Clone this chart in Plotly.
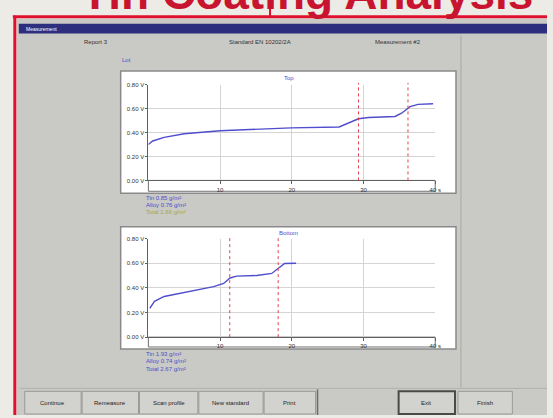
import plotly.graph_objects as go

# ---------------- data ----------------
top_x = [0, 0.6, 2.2, 5, 10, 15.1, 19.9, 26.6, 28, 29.3, 30.7, 34.4, 35.3, 36.5, 37.6, 39.7]
top_y = [0.30, 0.33, 0.36, 0.39, 0.415, 0.43, 0.44, 0.447, 0.48, 0.516, 0.527, 0.535, 0.562, 0.617, 0.636, 0.642]
bot_x = [0.2, 0.85, 2.2, 4.5, 6.8, 9.1, 10.5, 11.4, 12.3, 15.1, 17.2, 18.1, 19.0, 20.6]
bot_y = [0.234, 0.29, 0.33, 0.355, 0.38, 0.41, 0.436, 0.48, 0.495, 0.50, 0.517, 0.557, 0.598, 0.60]
top_markers = [29.3, 36.2]
bot_markers = [11.35, 18.1]
y_ticks = [0.0, 0.2, 0.4, 0.6, 0.8]
y_labels = ["0.00 V", "0.20 V", "0.40 V", "0.60 V", "0.80 V"]
x_ticks = [10, 20, 30, 40]
x_labels = ["10", "20", "30", "40 s"]
top_results = ["Tin 0.85 g/m²", "Alloy 0.76 g/m²", "Total 1.66 g/m²"]
bot_results = ["Tin 1.93 g/m²", "Alloy 0.74 g/m²", "Total 2.67 g/m²"]
buttons = ["Continue", "Remeasure", "Scan profile", "New standard", "Print"]
buttons_right = ["Exit", "Finish"]

W, H = 553, 418
def X(p): return p / W
def Y(p): return 1 - p / H

FONT = "Liberation Sans"
BLUE = "#4f4dcc"
fig = go.Figure()
fig.add_trace(go.Scatter(x=top_x, y=top_y, mode="lines", line=dict(color=BLUE, width=1.4),
                         xaxis="x", yaxis="y", showlegend=False, hoverinfo="skip"))
fig.add_trace(go.Scatter(x=bot_x, y=bot_y, mode="lines", line=dict(color=BLUE, width=1.4),
                         xaxis="x2", yaxis="y2", showlegend=False, hoverinfo="skip"))

shapes = []
def rect(x0, y0, x1, y1, fill, line="rgba(0,0,0,0)", lw=0, layer="below"):
    shapes.append(dict(type="rect", xref="paper", yref="paper", x0=X(x0), x1=X(x1), y0=Y(y1), y1=Y(y0),
                       fillcolor=fill, line=dict(color=line, width=lw), layer=layer))
def line(x0, y0, x1, y1, color, w, layer="below", dash="solid"):
    shapes.append(dict(type="line", xref="paper", yref="paper", x0=X(x0), x1=X(x1), y0=Y(y0), y1=Y(y1),
                       line=dict(color=color, width=w, dash=dash), layer=layer))

# window
rect(17, 16, 553, 418, "#c9c9c5")
rect(19, 21, 553, 31, "#2d2e7e")
line(13, 14, 553, 14, "#e0102c", 3, layer="above")
line(15, 13, 15, 418, "#e0102c", 3, layer="above")
line(273, 2, 273, 14, "#e0102c", 2, layer="above")
line(466, 33, 466, 390, "#a9a9a5", 1)
# chart panels
rect(122, 69, 461, 193, "#ffffff", "#8a8a8a", 1.5)
rect(122, 227, 461, 351, "#ffffff", "#8a8a8a", 1.5)
rect(150, 180, 440, 191, "#ffffff", "#707070", 1)
rect(150, 339, 440, 349, "#ffffff", "#707070", 1)
# button bar
line(20, 391, 553, 391, "#b0b0ac", 1)
bx = [25, 83, 141, 201, 267]
bw = [57, 57, 59, 65, 52]
for i in range(len(buttons)):
    rect(bx[i], 394, bx[i] + bw[i], 417, "#d2d2ce", "#9a9a96", 1)
line(321, 392, 321, 418, "#6a6a66", 1.5)
rect(403, 394, 460, 417, "#d2d2ce", "#4a4a46", 2)
rect(463, 394, 518, 417, "#d2d2ce", "#9a9a96", 1)

# marker lines
for m in top_markers:
    shapes.append(dict(type="line", xref="x", yref="y domain", x0=m, x1=m, y0=0, y1=1.02,
                       line=dict(color="#e8404e", width=1, dash="dot"), layer="above"))
for m in bot_markers:
    shapes.append(dict(type="line", xref="x2", yref="y2 domain", x0=m, x1=m, y0=0, y1=1.02,
                       line=dict(color="#e8404e", width=1, dash="dot"), layer="above"))

ann = []
def text(x, y, s, size=6, color="#333333", anchor="left", bold=False, family=FONT):
    ann.append(dict(xref="paper", yref="paper", x=X(x), y=Y(y), text=("<b>%s</b>" % s) if bold else s,
                    showarrow=False, xanchor=anchor, yanchor="middle",
                    font=dict(size=size, color=color, family=family)))

ann.append(dict(xref="paper", yref="paper", x=X(310), y=Y(18), text="<b>Tin Coating Analysis</b>",
                showarrow=False, xanchor="center", yanchor="bottom",
                font=dict(size=46, color="#c8142e", family=FONT)))
text(24, 26, "Measurement", 5, "#ffffff")
text(97, 40, "Report 3", 6, "#333333", "center")
text(263, 40, "Standard EN 10202/2A", 6, "#333333", "center")
text(402, 40, "Measurement #2", 6, "#333333", "center")
text(121, 58, "Lot", 6, BLUE)
text(292, 76, "Top", 6, BLUE, "center")
text(292, 233, "Bottom", 6, BLUE, "center")
tcols = [BLUE, BLUE, "#a8a83a"]
for i, s in enumerate(top_results):
    text(146, 198 + 7 * i, s, 6, tcols[i])
for i, s in enumerate(bot_results):
    text(146, 356 + 7.5 * i, s, 6, BLUE)
for i, s in enumerate(buttons):
    text(bx[i] + bw[i] / 2, 406, s, 6, "#222222", "center")
text(431, 406, buttons_right[0], 6, "#222222", "center")
text(490, 406, buttons_right[1], 6, "#222222", "center")

axis_common = dict(range=[0, 40], tickvals=x_ticks, ticktext=x_labels, showgrid=True, gridcolor="#d4d4d4",
                   gridwidth=1, showline=True, linecolor="#606060", linewidth=1, ticks="outside", ticklen=3,
                   tickcolor="#606060", tickfont=dict(size=6, family=FONT, color="#333333"),
                   zeroline=False, fixedrange=True)
yaxis_common = dict(range=[0, 0.8], tickvals=y_ticks, ticktext=y_labels, showgrid=True, gridcolor="#d4d4d4",
                    showline=True, linecolor="#606060", linewidth=1, ticks="outside", ticklen=2,
                    tickcolor="#606060", tickfont=dict(size=6, family=FONT, color="#333333"),
                    zeroline=False, fixedrange=True)

fig.update_layout(
    width=W, height=H, margin=dict(l=0, r=0, t=0, b=0),
    paper_bgcolor="#ecebe5", plot_bgcolor="#ffffff", showlegend=False,
    xaxis=dict(domain=[X(150), X(440)], anchor="y", **axis_common),
    yaxis=dict(domain=[Y(180), Y(83)], anchor="x", **yaxis_common),
    xaxis2=dict(domain=[X(150), X(440)], anchor="y2", **axis_common),
    yaxis2=dict(domain=[Y(339), Y(239)], anchor="x2", **yaxis_common),
    shapes=shapes, annotations=ann,
)
fig.write_html("out.html", config={"displayModeBar": False},
               post_script="document.body.style.margin='0';document.body.style.overflow='hidden';")
